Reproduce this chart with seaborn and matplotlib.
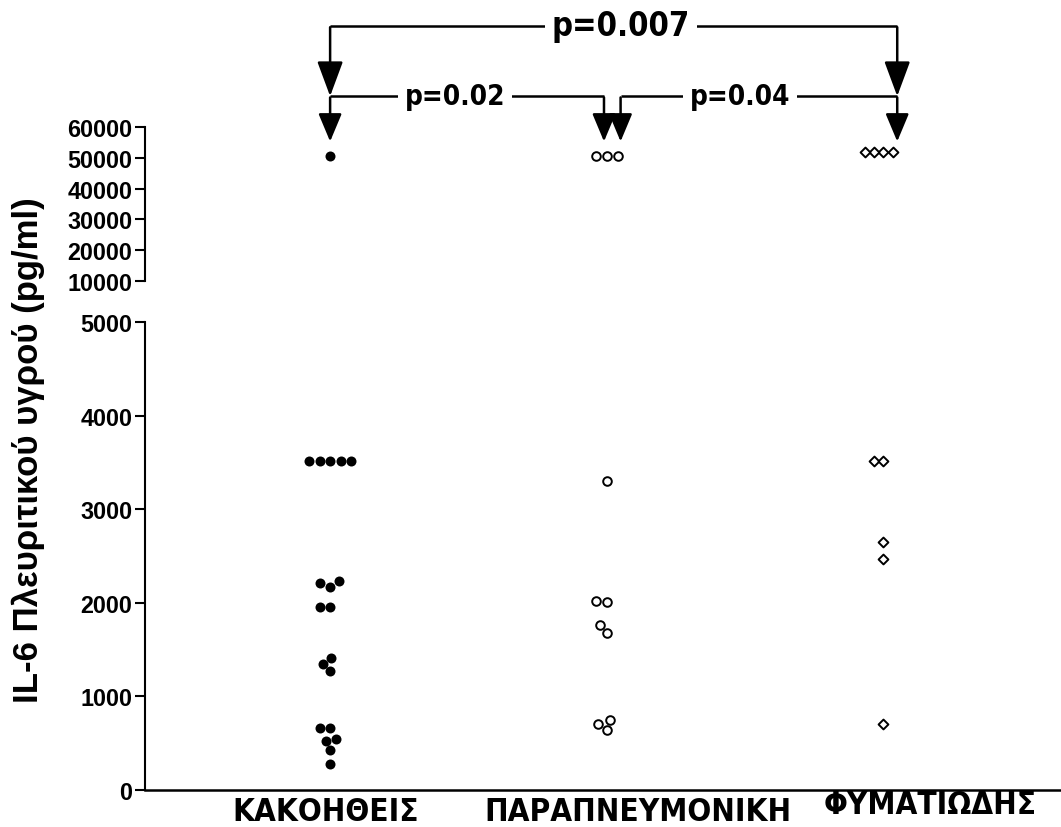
import matplotlib
matplotlib.use("Agg")
import matplotlib.pyplot as plt
import matplotlib.font_manager as fm
from matplotlib.transforms import ScaledTranslation, blended_transform_factory
import seaborn as sns
import pandas as pd

# Categories and measured IL-6 values (pg/ml)
groups = ["ΚΑΚΟΗΘΕΙΣ", "ΠΑΡΑΠΝΕΥΜΟΝΙΚΗ", "ΦΥΜΑΤΙΩΔΗΣ"]
kakoitheis = [50500, 3520, 3520, 3520, 3520, 3520, 2210, 2170, 2230, 1955, 1955,
              1410, 1346, 1271, 662, 662, 523, 545, 427, 278]
parapneumoniki = [50500, 50500, 50500, 3300, 2008, 2020, 1763, 1677, 748, 641, 705]
fymatiodis = [52000, 52000, 52000, 52000, 3520, 3520, 2650, 2468, 705]

# p-value brackets: (left group, right group, label)
comparisons = [(0, 2, "p=0.007"), (0, 1, "p=0.02"), (1, 2, "p=0.04")]

lower_ticks = [0, 1000, 2000, 3000, 4000, 5000]
upper_ticks = [10000, 20000, 30000, 40000, 50000, 60000]
ylabel = "IL-6 Πλευριτικού υγρού (pg/ml)"

sns.set_style("ticks")
names = {f.name for f in fm.fontManager.ttflist}
main_family = "Liberation Sans" if "Liberation Sans" in names else "Arimo"
plt.rcParams["font.family"] = [main_family, "DejaVu Sans"]
plt.rcParams["font.weight"] = "bold"
for key in ["text.color", "axes.labelcolor", "xtick.color", "ytick.color", "axes.edgecolor"]:
    plt.rcParams[key] = "black"

regular = fm.FontProperties(family=[main_family, "DejaVu Sans"], weight="bold")
if "Liberation Sans Narrow" in names:
    narrow = fm.FontProperties(family="Liberation Sans Narrow", weight="bold")
    nscale = 1.0
else:
    narrow = fm.FontProperties(family="DejaVu Sans", stretch="condensed", weight="bold")
    nscale = 0.87

df = pd.DataFrame({
    "group": [groups[0]] * len(kakoitheis) + [groups[1]] * len(parapneumoniki) + [groups[2]] * len(fymatiodis),
    "value": kakoitheis + parapneumoniki + fymatiodis,
})

fig = plt.figure(figsize=(10.61, 8.28), dpi=100)
ax_lo = fig.add_axes([0.1367, 0.0447, 0.8633, 0.5652])
ax_hi = fig.add_axes([0.1367, 0.6594, 0.8633, 0.186])

styles = {
    groups[0]: dict(marker="o", size=7.2, color="black", edgecolor="black", linewidth=0),
    groups[1]: dict(marker="o", size=6.2, color="white", edgecolor="black", linewidth=1.4),
    groups[2]: dict(marker="D", size=5.0, color="white", edgecolor="black", linewidth=1.4),
}

for ax, part in [(ax_lo, df[df.value < 7500]), (ax_hi, df[df.value >= 7500])]:
    for g in groups:
        sub = part[part.group == g]
        if len(sub):
            sns.swarmplot(data=sub, x="group", y="value", order=groups, ax=ax, **styles[g])
    ax.set_xlim(-0.669, 2.642)
    ax.set_xlabel("")
    ax.set_ylabel("")
    for s in ["top", "right"]:
        ax.spines[s].set_visible(False)
    ax.spines["left"].set_linewidth(1.5)
    ax.tick_params(axis="y", length=7, width=1.5, pad=2)

ax_lo.set_ylim(0, 5000)
ax_lo.set_yticks(lower_ticks)
ax_lo.set_yticklabels([str(t) for t in lower_ticks], fontproperties=regular, fontsize=16.8)
ax_lo.spines["bottom"].set_linewidth(1.8)
ax_lo.set_xticks(range(len(groups)))
ax_lo.tick_params(axis="x", bottom=False, labelbottom=False)

# category labels, nudged like the original layout
trans = blended_transform_factory(ax_lo.transData, ax_lo.transAxes)
offsets = [(-4, 0), (31, 0), (47, 7)]
for i, (g, (dx, dy)) in enumerate(zip(groups, offsets)):
    ax_lo.text(i, -30 / 468, g, ha="center", va="baseline", fontproperties=narrow,
               fontsize=26 * nscale, clip_on=False,
               transform=trans + ScaledTranslation(dx / 100, dy / 100, fig.dpi_scale_trans))

ax_hi.set_ylim(10000, 60000)
ax_hi.set_yticks(upper_ticks)
ax_hi.set_yticklabels([str(t) for t in upper_ticks], fontproperties=regular, fontsize=16.8)
ax_hi.spines["bottom"].set_visible(False)
ax_hi.tick_params(axis="x", bottom=False, labelbottom=False)

# brackets with arrows, drawn in upper-axis data units above the plot
levels = {2: (92800, 70000, 1.08, 0.40, 27), 1: (70000, 55300, 0.86, 0.36, 23)}
arrow_x = {(0, 2): (0.0, 2.05), (0, 1): (0.0, 0.99), (1, 2): (1.05, 2.05)}
text_x = {(0, 2): 1.052, (0, 1): 0.452, (1, 2): 1.482}
for a, b, label in comparisons:
    lvl = b - a
    y_line, y_tip, hl, hw, fsize = levels[lvl]
    x0, x1 = arrow_x[(a, b)]
    ax_hi.plot([x0, x1], [y_line, y_line], color="black", lw=1.8, clip_on=False, solid_capstyle="butt")
    for x in (x0, x1):
        ax_hi.annotate("", xy=(x, y_tip), xytext=(x, y_line - 400), annotation_clip=False,
                       arrowprops=dict(arrowstyle=f"-|>,head_length={hl},head_width={hw}",
                                       mutation_scale=20, lw=1.8, color="black",
                                       shrinkA=0, shrinkB=0))
    ax_hi.text(text_x[(a, b)], y_line, label, ha="center", va="center",
               fontproperties=narrow, fontsize=fsize * nscale, clip_on=False, zorder=5,
               bbox=dict(facecolor="white", edgecolor="none", pad=5))

fig.text(0.027, 0.4565, ylabel, rotation=90, ha="center", va="center",
         fontproperties=regular, fontsize=25)

fig.savefig("out.png", dpi=100)
